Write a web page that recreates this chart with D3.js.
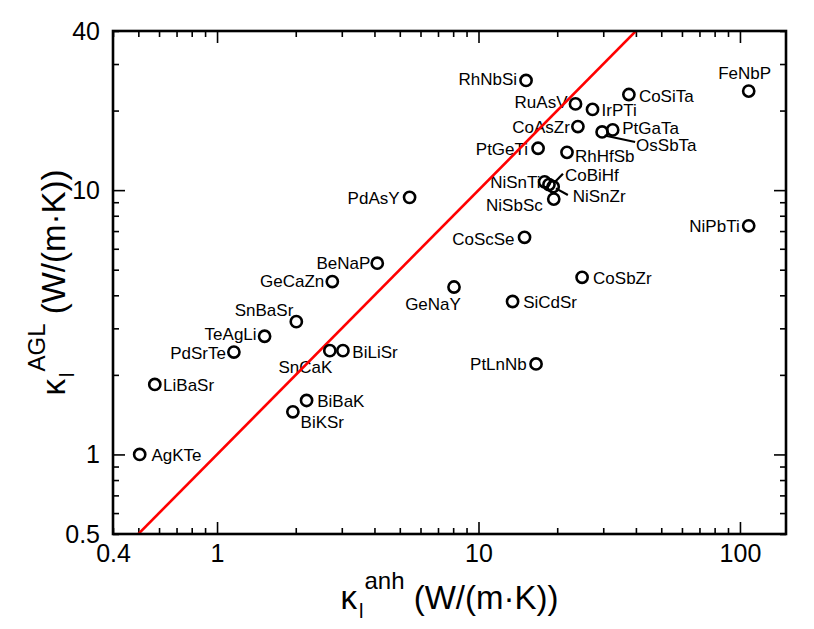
<!DOCTYPE html>
<html lang="en">
<head>
<meta charset="UTF-8">
<title>kappa AGL vs kappa anh</title>
<script src="https://d3js.org/d3.v7.min.js"></script>
<style>
  body { margin: 0; background: #fff; }
  svg { display: block; font-family: "Liberation Sans", Arial, Helvetica, sans-serif; }
</style>
</head>
<body>
<div id="chart"></div>
<script>
// compounds
const names = ["RhNbSi", "CoSiTa", "FeNbP", "RuAsV", "IrPTi", "CoAsZr", "PtGaTa", "OsSbTa",
  "PtGeTi", "RhHfSb", "NiSnTi", "CoBiHf", "NiSnZr", "NiSbSc", "NiPbTi", "CoScSe",
  "CoSbZr", "GeNaY", "SiCdSr", "PdAsY", "BeNaP", "GeCaZn", "SnBaSr", "TeAgLi",
  "PdSrTe", "SnCaK", "BiLiSr", "LiBaSr", "BiBaK", "BiKSr", "AgKTe", "PtLnNb"];
// kappa_l^anh (x)
const kAnh = [15.2, 37.6, 108, 23.5, 27.3, 24.0, 32.6, 29.7,
  16.9, 21.8, 17.9, 18.6, 19.3, 19.4, 108, 15.0,
  24.9, 8.06, 13.5, 5.45, 4.10, 2.76, 2.01, 1.52,
  1.16, 2.70, 3.03, 0.578, 2.20, 1.95, 0.506, 16.6];
// kappa_l^AGL (y)
const kAGL = [26.0, 23.0, 23.7, 21.2, 20.2, 17.4, 16.9, 16.6,
  14.4, 13.9, 10.75, 10.5, 10.3, 9.25, 7.33, 6.63,
  4.68, 4.30, 3.79, 9.39, 5.29, 4.51, 3.18, 2.80,
  2.44, 2.47, 2.47, 1.84, 1.60, 1.45, 1.0, 2.20];

const xTickLabels = [0.4, 1, 10, 100];
const yTickLabels = [0.5, 1, 10, 40];
const xMajor = [1, 10, 100];
const yMajor = [1, 10];

// label placement: [anchor, dx, dy] in px from the circle centre
const labelPos = {
  RhNbSi: ["end", -9, 5], CoSiTa: ["start", 10, 7], FeNbP: ["middle", -4, -12],
  RuAsV: ["end", -8, 4], IrPTi: ["start", 9, 7], CoAsZr: ["end", -8, 6],
  PtGaTa: ["start", 9.5, 4.5], OsSbTa: ["start", 34, 19], PtGeTi: ["end", -10, 7],
  RhHfSb: ["start", 8, 9.5], NiSnTi: ["end", -4, 6.5], CoBiHf: ["start", 16, -4],
  NiSnZr: ["start", 19.5, 15], NiSbSc: ["end", -11, 11.5], NiPbTi: ["end", -9, 6],
  CoScSe: ["end", -10, 7.5], CoSbZr: ["start", 11, 6.7], GeNaY: ["middle", -21, 23.4],
  SiCdSr: ["start", 10.6, 6.6], PdAsY: ["end", -10, 6.7], BeNaP: ["end", -7, 6],
  GeCaZn: ["end", -8, 5.6], SnBaSr: ["end", -3, -6], TeAgLi: ["end", -8, 4],
  PdSrTe: ["end", -8, 6.7], SnCaK: ["middle", -24.5, 22.6], BiLiSr: ["start", 9.4, 7.6],
  LiBaSr: ["start", 8.3, 6.7], BiBaK: ["start", 10.6, 6.3], BiKSr: ["start", 7.7, 16],
  AgKTe: ["start", 11.7, 6.7], PtLnNb: ["end", -9.3, 6.4]
};
// leader lines: [x1, y1, x2, y2] in px from the circle centre
const leaders = {
  OsSbTa: [2.5, 3.5, 33, 10],
  CoBiHf: [5.7, -2.3, 14, -10.7],
  NiSnZr: [2.7, 1.6, 14.7, 8.3]
};

const W = 814, H = 629;
const box = { l: 113, r: 786, t: 31, b: 534 };

const svg = d3.select("#chart").append("svg")
  .attr("width", W).attr("height", H);

const x = d3.scaleLog().domain([0.4, 150]).range([box.l, box.r]);
const y = d3.scaleLog().domain([0.5, 40]).range([box.b, box.t]);

const xMinor = x.ticks().filter(v => !xMajor.includes(v));
const yMinor = y.ticks().filter(v => !yMajor.includes(v));

// ticks pointing inward on all four sides
function tickAxis(axisFn, scale, values, size, tr) {
  const g = svg.append("g").attr("transform", tr)
    .call(axisFn(scale).tickValues(values).tickSize(-size).tickFormat(""));
  g.select(".domain").remove();
  g.selectAll("line").attr("stroke", "#000").attr("stroke-width", 1.6);
}
tickAxis(d3.axisBottom, x, xMajor, 12, `translate(0,${box.b})`);
tickAxis(d3.axisBottom, x, xMinor, 6, `translate(0,${box.b})`);
tickAxis(d3.axisTop, x, xMajor, 12, `translate(0,${box.t})`);
tickAxis(d3.axisTop, x, xMinor, 6, `translate(0,${box.t})`);
tickAxis(d3.axisLeft, y, yMajor, 12, `translate(${box.l},0)`);
tickAxis(d3.axisLeft, y, yMinor, 6, `translate(${box.l},0)`);
tickAxis(d3.axisRight, y, yMajor, 12, `translate(${box.r},0)`);
tickAxis(d3.axisRight, y, yMinor, 6, `translate(${box.r},0)`);

// tick labels
const xLab = svg.append("g").attr("transform", `translate(0,${box.b})`)
  .call(d3.axisBottom(x).tickValues(xTickLabels).tickSize(0).tickPadding(10).tickFormat(d => d));
xLab.select(".domain").remove();
xLab.selectAll("text").attr("font-size", 25).attr("font-family", "Liberation Sans, Arial, sans-serif").attr("fill", "#000");

const yLab = svg.append("g").attr("transform", `translate(${box.l},0)`)
  .call(d3.axisLeft(y).tickValues(yTickLabels).tickSize(0).tickPadding(13).tickFormat(d => d));
yLab.select(".domain").remove();
yLab.selectAll("text").attr("font-size", 25).attr("font-family", "Liberation Sans, Arial, sans-serif").attr("fill", "#000");

// clip for the plot area
svg.append("clipPath").attr("id", "plotclip")
  .append("rect").attr("x", box.l).attr("y", box.t)
  .attr("width", box.r - box.l).attr("height", box.b - box.t);

const pts = names.map((n, i) => ({ name: n, x: kAnh[i], y: kAGL[i] }));

// labels
svg.append("g").selectAll("text").data(pts).join("text")
  .attr("x", d => x(d.x) + labelPos[d.name][1])
  .attr("y", d => y(d.y) + labelPos[d.name][2])
  .attr("text-anchor", d => labelPos[d.name][0])
  .attr("font-size", 17)
  .attr("fill", "#000")
  .text(d => d.name);

// leader lines
svg.append("g").selectAll("line").data(pts.filter(d => leaders[d.name])).join("line")
  .attr("x1", d => x(d.x) + leaders[d.name][0])
  .attr("y1", d => y(d.y) + leaders[d.name][1])
  .attr("x2", d => x(d.x) + leaders[d.name][2])
  .attr("y2", d => y(d.y) + leaders[d.name][3])
  .attr("stroke", "#000").attr("stroke-width", 2.2);

// y = x reference line
const diag = [0.4, 150];
svg.append("path")
  .datum(diag)
  .attr("clip-path", "url(#plotclip)")
  .attr("fill", "none")
  .attr("stroke", "#ff0000")
  .attr("stroke-width", 2.6)
  .attr("d", d3.line().x(d => x(d)).y(d => y(d)));

// markers
svg.append("g").selectAll("circle").data(pts).join("circle")
  .attr("cx", d => x(d.x))
  .attr("cy", d => y(d.y))
  .attr("r", 5.6)
  .attr("fill", "none")
  .attr("stroke", "#000")
  .attr("stroke-width", 2.6);

// frame
svg.append("rect")
  .attr("x", box.l).attr("y", box.t)
  .attr("width", box.r - box.l).attr("height", box.b - box.t)
  .attr("fill", "none").attr("stroke", "#000").attr("stroke-width", 2.6);

// axis titles
function axisTitle(g, sup) {
  const t = g.append("text").attr("text-anchor", "middle").attr("font-size", 33).attr("fill", "#000");
  t.append("tspan").text("κ");
  t.append("tspan").attr("font-size", 20).attr("dx", 2).attr("dy", 9).text("l");
  t.append("tspan").attr("font-size", 24).attr("dx", 1).attr("dy", -29).text(sup);
  t.append("tspan").attr("dy", 20).text(" (W/(m·K))");
}
axisTitle(svg.append("g").attr("transform", `translate(${(box.l + box.r) / 2},609)`), "anh");
axisTitle(svg.append("g").attr("transform", `translate(65,${(box.t + box.b) / 2}) rotate(-90)`), "AGL");
</script>
</body>
</html>
